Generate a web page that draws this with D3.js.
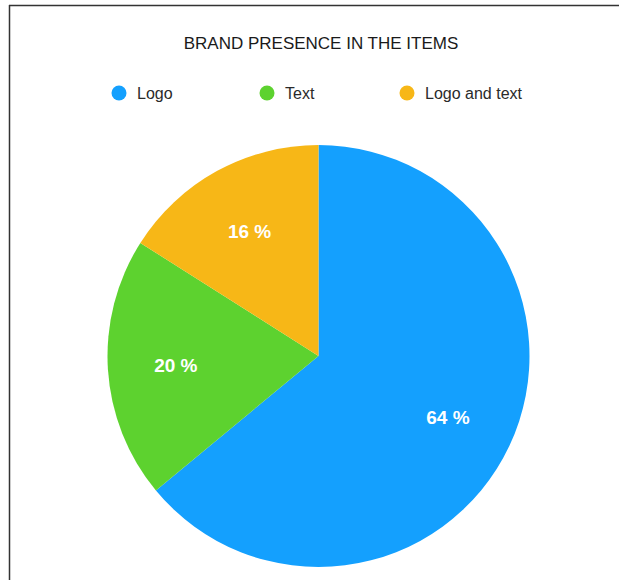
<!DOCTYPE html>
<html>
<head>
<meta charset="utf-8">
<script src="https://cdn.jsdelivr.net/npm/d3@7"></script>
<style>
  html, body { margin: 0; padding: 0; background: #fff; }
  svg { display: block; }
</style>
</head>
<body>
<svg id="chart" width="619" height="580"></svg>
<script>
const categories = ["Logo", "Text", "Logo and text"];
const values = [64, 20, 16];
const colors = ["#14A0FE", "#5DD22F", "#F7B717"];
const title = "BRAND PRESENCE IN THE ITEMS";

const svg = d3.select("#chart");
const font = "'Liberation Sans', Arial, Helvetica, sans-serif";

// frame (top & left edges)
svg.append("line").attr("x1", 9.5).attr("x2", 9.5).attr("y1", 5).attr("y2", 580)
  .attr("stroke", "#333").attr("stroke-width", 1.5);
svg.append("line").attr("x1", 9).attr("x2", 619).attr("y1", 5.5).attr("y2", 5.5)
  .attr("stroke", "#333").attr("stroke-width", 1.5);

svg.append("text").attr("x", 321).attr("y", 49).attr("text-anchor", "middle")
  .attr("font-family", font).attr("font-size", 17).attr("fill", "#1a1a1a")
  .text(title);

// legend
const lx = { "Logo": 119, "Text": 267, "Logo and text": 407 };
const color = d3.scaleOrdinal().domain(categories).range(colors);
const leg = svg.append("g").selectAll("g").data(categories).join("g")
  .attr("transform", d => `translate(${lx[d]},93)`);
leg.append("circle").attr("r", 7.5).attr("fill", d => color(d));
leg.append("text").attr("x", 18).attr("y", 5.5).attr("font-family", font)
  .attr("font-size", 16).attr("fill", "#2a2a2a").text(d => d);

// pie
const cx = 318.5, cy = 356, r = 211;
const pie = d3.pie().sort(null).value(d => d.v);
const data = categories.map((c, i) => ({ c, v: values[i] }));
const arcs = pie(data);
const arc = d3.arc().innerRadius(0).outerRadius(r);
const labelArc = d3.arc().innerRadius(143).outerRadius(143);
const g = svg.append("g").attr("transform", `translate(${cx},${cy})`);
g.selectAll("path").data(arcs).join("path")
  .attr("d", arc).attr("fill", d => color(d.data.c));
g.selectAll("text").data(arcs).join("text")
  .attr("transform", d => `translate(${labelArc.centroid(d)})`)
  .attr("text-anchor", "middle").attr("dy", "0.36em")
  .attr("font-family", font).attr("font-size", 19).attr("font-weight", "bold")
  .attr("fill", "#fff")
  .text(d => d.data.v + " %");
</script>
</body>
</html>
